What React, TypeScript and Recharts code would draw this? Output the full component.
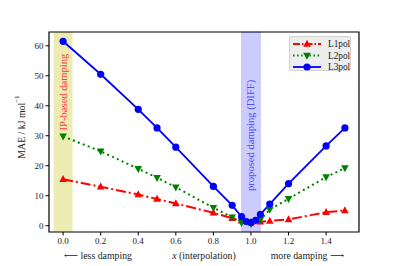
import React from "react";
import { LineChart, Line, XAxis, YAxis, ReferenceArea, Legend } from "recharts";

const xMain = [0, 0.2, 0.4, 0.5, 0.6, 0.8, 0.9, 0.95, 1.0, 1.05, 1.1, 1.2, 1.4, 1.5];
const l1pol = [15.5, 13.0, 10.4, 8.9, 7.4, 4.3, 2.5, 1.7, 1.2, 1.3, 1.6, 2.1, 4.5, 5.1];
const l2pol = [29.8, 24.8, 19.0, 16.0, 12.8, 6.0, 2.8, 1.0, 0.6, 2.0, 5.4, 9.0, 16.2, 19.2];
const xL3 = [0, 0.2, 0.4, 0.5, 0.6, 0.8, 0.9, 0.95, 0.975, 1.0, 1.025, 1.05, 1.1, 1.2, 1.4, 1.5];
const l3pol = [61.5, 50.5, 38.8, 32.6, 26.2, 13.1, 6.8, 3.0, 1.4, 1.0, 1.8, 3.8, 7.2, 14.0, 26.6, 32.6];

const xTicks = [0, 0.2, 0.4, 0.6, 0.8, 1.0, 1.2, 1.4];
const yTicks = [0, 10, 20, 30, 40, 50, 60];

const d1 = xMain.map((x, i) => ({ x, y: l1pol[i] }));
const d2 = xMain.map((x, i) => ({ x, y: l2pol[i] }));
const d3 = xL3.map((x, i) => ({ x, y: l3pol[i] }));

const FONT = "'Liberation Serif', 'DejaVu Serif', serif";
const RED = "#ff0000";
const GREEN = "#008000";
const BLUE = "#0000ff";

const TriUp = ({ cx, cy, color }: any) => (
  <polygon points={`${cx},${cy - 4.2} ${cx - 3.8},${cy + 2.8} ${cx + 3.8},${cy + 2.8}`} fill={color} />
);
const TriDown = ({ cx, cy, color }: any) => (
  <polygon points={`${cx},${cy + 4.2} ${cx - 3.8},${cy - 2.8} ${cx + 3.8},${cy - 2.8}`} fill={color} />
);
const Dot = ({ cx, cy, color }: any) => <circle cx={cx} cy={cy} r={3.6} fill={color} />;

const legendItems = [
  { name: "L1pol", color: RED, dash: "7 2 1.5 2", Mark: TriUp },
  { name: "L2pol", color: GREEN, dash: "1.5 2.6", Mark: TriDown },
  { name: "L3pol", color: BLUE, dash: undefined, Mark: Dot },
];

const renderLegend = () => (
  <div
    style={{
      width: 62,
      height: 35,
      background: "#ededed",
      border: "1px solid #d2d2d2",
      borderRadius: 2,
      boxSizing: "border-box",
    }}
  >
    <svg width={62} height={35} style={{ display: "block" }}>
      {legendItems.map((it, i) => {
        const cy = 7 + i * 11.5;
        return (
          <g key={it.name}>
            <line x1={3} x2={31} y1={cy} y2={cy} stroke={it.color} strokeWidth={1.8} strokeDasharray={it.dash} />
            <it.Mark cx={17} cy={cy} color={it.color} />
            <text x={38} y={cy + 3.2} fontFamily={FONT} fontSize={9.3} fill="#222">
              {it.name}
            </text>
          </g>
        );
      })}
    </svg>
  </div>
);

const BandLabel = ({ viewBox, text, color, frac }: any) => {
  const { x, y, width, height } = viewBox;
  const cx = x + width / 2;
  const cy = y + height * frac;
  return (
    <text
      x={cx}
      y={cy}
      transform={`rotate(-90 ${cx} ${cy})`}
      textAnchor="middle"
      dominantBaseline="central"
      fontFamily={FONT}
      fontSize={10.6}
      fill={color}
    >
      {text}
    </text>
  );
};

const XLabels = ({ viewBox }: any) => {
  const { x, y, width } = viewBox;
  const by = y + 27;
  return (
    <g fontFamily={FONT} fontSize={9.8} fill="#222">
      <text x={x + 15} y={by}>{"\u27F5 less damping"}</text>
      <text x={x + width / 2} y={by} textAnchor="middle">
        <tspan fontStyle="italic">x</tspan> (interpolation)
      </text>
      <text x={x + 295} y={by} textAnchor="end">{"more damping \u27F6"}</text>
    </g>
  );
};

const YLabel = ({ viewBox }: any) => {
  const { x, y, height } = viewBox;
  const cx = x + 21;
  const cy = y + height / 2 - 5;
  return (
    <text
      x={cx}
      y={cy}
      transform={`rotate(-90 ${cx} ${cy})`}
      textAnchor="middle"
      dominantBaseline="central"
      fontFamily={FONT}
      fontSize={9.8}
      fill="#222"
    >
      MAE / kJ mol
      <tspan dy={-4} fontSize={7}>{"\u22121"}</tspan>
    </text>
  );
};

const tickStyle = { fontFamily: FONT, fontSize: 9, fill: "#222" };

export default function App() {
  return (
    <div style={{ position: "absolute", left: 0, top: 0, width: 399, height: 266, background: "#fff" }}>
      <LineChart width={399} height={266} margin={{ top: 32, right: 40, bottom: 0, left: 0 }}>
        <XAxis
          dataKey="x"
          type="number"
          domain={[-0.075, 1.575]}
          ticks={xTicks}
          allowDataOverflow
          height={34}
          tickSize={3.5}
          tickMargin={2}
          axisLine={false}
          tickLine={{ stroke: "#000" }}
          tick={tickStyle}
          tickFormatter={(v: number) => v.toFixed(1)}
          label={<XLabels />}
        />
        <YAxis
          type="number"
          domain={[-2.1, 64.6]}
          ticks={yTicks}
          allowDataOverflow
          width={49}
          tickSize={3.5}
          tickMargin={2}
          axisLine={false}
          tickLine={{ stroke: "#000" }}
          tick={tickStyle}
          label={<YLabel />}
        />
        <ReferenceArea
          x1={-0.05}
          x2={0.05}
          y1={-2.1}
          y2={64.6}
          fill="#bfbf00"
          fillOpacity={0.3}
          stroke="none"
          label={<BandLabel text="IP-based damping" color="#ff3b3b" frac={0.3} />}
        />
        <ReferenceArea
          x1={0.95}
          x2={1.05}
          y1={-2.1}
          y2={64.6}
          fill={BLUE}
          fillOpacity={0.2}
          stroke={BLUE}
          strokeOpacity={0.15}
          label={<BandLabel text="proposed damping (DIFF)" color="#4f4fff" frac={0.517} />}
        />
        <Line
          data={d1}
          dataKey="y"
          name="L1pol"
          stroke={RED}
          strokeWidth={2}
          strokeDasharray="10 3 2 3"
          isAnimationActive={false}
          dot={(p: any) => <TriUp key={`a${p.index}`} cx={p.cx} cy={p.cy} color={RED} />}
        />
        <Line
          data={d2}
          dataKey="y"
          name="L2pol"
          stroke={GREEN}
          strokeWidth={2}
          strokeDasharray="2 3.3"
          isAnimationActive={false}
          dot={(p: any) => <TriDown key={`b${p.index}`} cx={p.cx} cy={p.cy} color={GREEN} />}
        />
        <Line
          data={d3}
          dataKey="y"
          name="L3pol"
          stroke={BLUE}
          strokeWidth={1.8}
          isAnimationActive={false}
          dot={(p: any) => <Dot key={`c${p.index}`} cx={p.cx} cy={p.cy} color={BLUE} />}
        />
        <ReferenceArea
          x1={-0.075}
          x2={1.575}
          y1={-2.1}
          y2={64.6}
          fill="none"
          stroke="#000"
          strokeWidth={1.2}
        />
        <Legend
          layout="vertical"
          align="center"
          verticalAlign="middle"
          content={renderLegend}
          wrapperStyle={{ top: 36, left: 289, width: 62, height: 35 }}
        />
      </LineChart>
    </div>
  );
}
